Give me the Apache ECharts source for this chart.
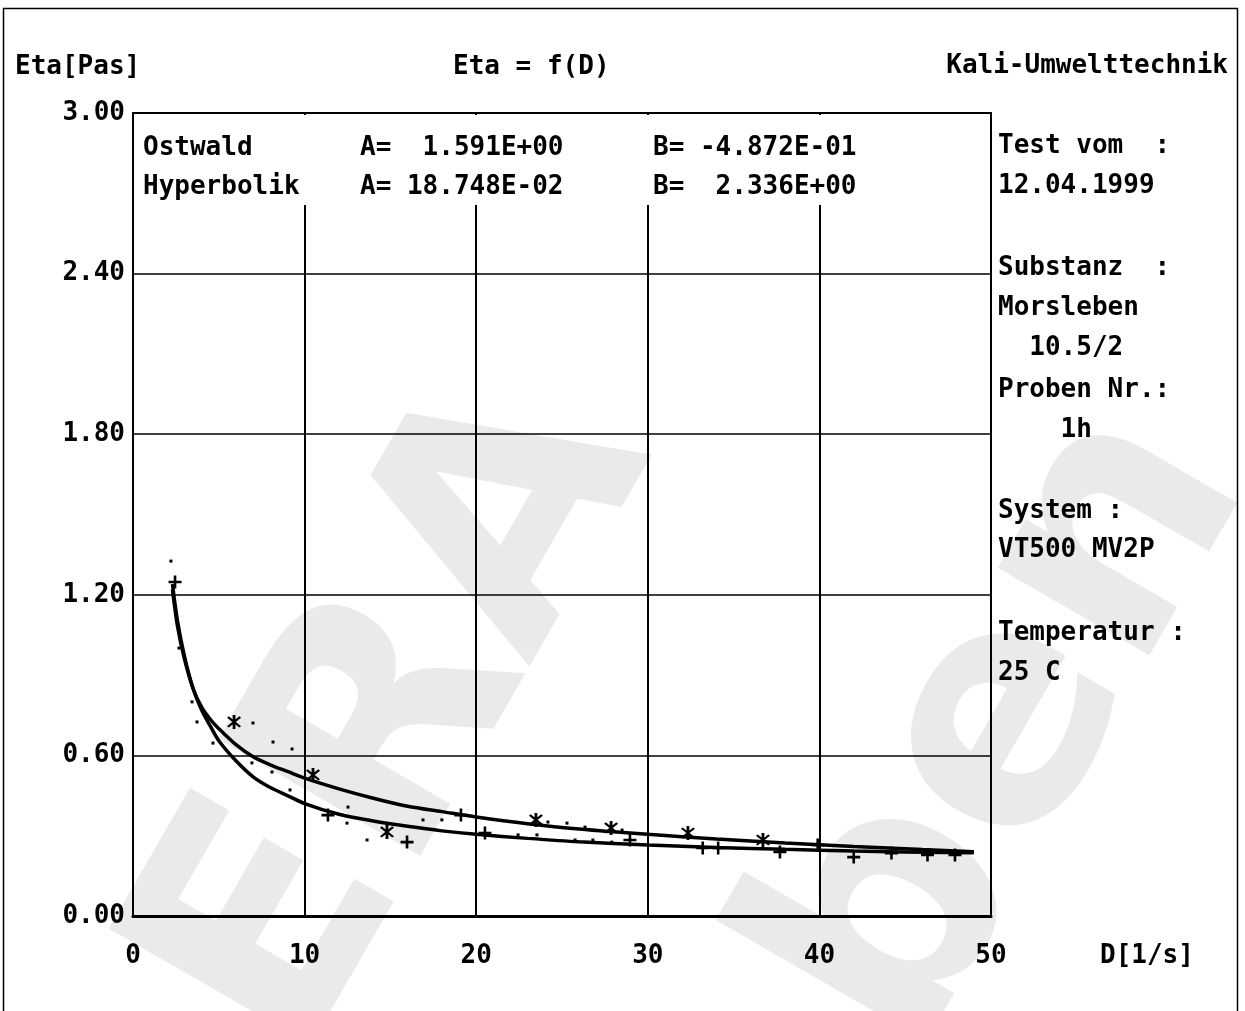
<!DOCTYPE html>
<html>
<head>
<meta charset="utf-8">
<script src="https://cdn.jsdelivr.net/npm/echarts@6/dist/echarts.min.js"></script>
<style>
  html, body { margin:0; padding:0; background:#fff; width:1245px; height:1011px; overflow:hidden; position:relative; }
  #chart { position:absolute; left:0; top:0; width:1245px; height:1011px; z-index:2; }
  .wm { position:absolute; z-index:1; font-family:"DejaVu Sans", sans-serif; font-weight:bold; color:#eaeaea;
        font-size:320px; line-height:320px; white-space:nowrap; transform-origin:0 50%; transform:rotate(-60deg); }
</style>
</head>
<body>
<div class="wm" style="left:200px; top:855px;">ERA</div>
<div class="wm" style="left:210px; top:1900px;">Morsleben</div>
<div id="chart"></div>
<script>
// ---- data ----
const xTickLabels = ['0', '10', '20', '30', '40', '50'];
const yTickLabels = ['0.00', '0.60', '1.20', '1.80', '2.40', '3.00'];

const curveD        = [2.3, 2.6, 3.0, 3.5, 4, 4.5, 5, 6, 7, 8, 9, 10, 12, 14, 16, 18, 20, 23, 26, 30, 34, 38, 42, 46, 49];
const ostwaldEta    = [1.22, 1.08, 0.96, 0.85, 0.78, 0.735, 0.70, 0.64, 0.595, 0.565, 0.54, 0.515, 0.475, 0.44, 0.41, 0.39, 0.37, 0.345, 0.325, 0.305, 0.288, 0.273, 0.26, 0.248, 0.24];
const hyperbolikEta = [1.24, 1.10, 0.97, 0.85, 0.77, 0.71, 0.655, 0.58, 0.52, 0.48, 0.45, 0.42, 0.38, 0.355, 0.335, 0.318, 0.305, 0.29, 0.277, 0.265, 0.256, 0.249, 0.243, 0.238, 0.236];

const plusPoints = [[2.45,1.248],[11.36,0.377],[15.97,0.276],[19.11,0.377],[20.51,0.31],[28.96,0.284],[33.2,0.254],[34.1,0.254],[37.7,0.239],[39.9,0.265],[42.0,0.22],[44.2,0.235],[46.3,0.228],[47.9,0.228]];
const starPoints = [[5.89,0.725],[10.49,0.527],[14.8,0.314],[23.48,0.359],[27.86,0.329],[32.34,0.31],[36.71,0.284]];
const dotPoints  = [[2.21,1.326],[2.68,1.001],[3.44,0.80],[3.73,0.725],[4.66,0.646],[6.99,0.721],[8.16,0.65],[9.27,0.624],[6.93,0.572],[8.10,0.538],[9.15,0.471],[12.53,0.407],[12.47,0.347],[13.64,0.284],[16.9,0.359],[18.0,0.359],[24.18,0.351],[25.29,0.347],[26.34,0.332],[28.5,0.321],[22.44,0.303],[23.54,0.303],[25.76,0.284],[26.8,0.284],[27.9,0.276]];

const fitRows = [
  ['Ostwald',    'A=  1.591E+00', 'B= -4.872E-01'],
  ['Hyperbolik', 'A= 18.748E-02', 'B=  2.336E+00']
];
const infoLines = [
  ['Test vom  :', 146], ['12.04.1999', 186],
  ['Substanz  :', 268], ['Morsleben', 308], ['  10.5/2', 348],
  ['Proben Nr.:', 390], ['    1h', 430],
  ['System :', 511], ['VT500 MV2P', 550],
  ['Temperatur :', 633], ['25 C', 673]
];

// ---- chart ----
const FONT = '"DejaVu Sans Mono", "Liberation Mono", monospace';
const txt = (x, y, text, align) => ({
  type: 'text', x: x, y: y, z: 100,
  style: { text: text, fill: '#000', font: 'bold 26px ' + FONT, textAlign: align || 'left', textVerticalAlign: 'middle' }
});
const graphics = [
  { type: 'rect', z: 1, shape: { x: 3.5, y: 8.5, width: 1234, height: 1100 }, style: { fill: 'none', stroke: '#000', lineWidth: 1.5 } },
  { type: 'rect', z: 50, shape: { x: 135, y: 115, width: 854, height: 90 }, style: { fill: '#fff' } },
  txt(15, 67, 'Eta[Pas]'),
  txt(453, 67, 'Eta = f(D)'),
  txt(1228, 66, 'Kali-Umwelttechnik', 'right'),
  txt(1100, 956, 'D[1/s]')
];
fitRows.forEach((r, i) => {
  const y = 148 + i * 39;
  graphics.push(txt(143, y, r[0]), txt(360, y, r[1]), txt(653, y, r[2]));
});
infoLines.forEach(l => graphics.push(txt(998, l[1], l[0])));

const curveData = arr => curveD.map((d, i) => [d, arr[i]]);
const PLUS = 'path://M4,0H6V10H4Z M0,4H10V6H0Z';
const STAR = 'path://M4.2,0H5.8V10H4.2Z M1,2L2,1L9,8L8,9Z M8,1L9,2L2,9L1,8Z';

const chart = echarts.init(document.getElementById('chart'), null, { renderer: 'canvas' });
chart.setOption({
  animation: false,
  backgroundColor: 'transparent',
  grid: { left: 133, top: 113, width: 858, height: 803, show: true, borderColor: '#000', borderWidth: 2, backgroundColor: 'transparent' },
  xAxis: {
    type: 'value', min: 0, max: 50, interval: 10,
    axisLine: { show: true, lineStyle: { color: '#000', width: 3 } },
    axisTick: { show: false },
    splitLine: { show: true, lineStyle: { color: '#000', width: 2 } },
    axisLabel: { margin: 27, color: '#000', fontFamily: FONT, fontWeight: 'bold', fontSize: 26,
      formatter: v => xTickLabels[Math.round(v / 10)] },
  },
  yAxis: {
    type: 'value', min: 0, max: 3, interval: 0.6,
    axisLine: { show: true, lineStyle: { color: '#000', width: 2 } },
    axisTick: { show: false },
    splitLine: { show: true, lineStyle: { color: '#000', width: 1.5 } },
    axisLabel: { margin: 8, color: '#000', fontFamily: FONT, fontWeight: 'bold', fontSize: 26,
      formatter: v => yTickLabels[Math.round(v / 0.6)] },
  },
  graphic: graphics,
  series: [
    { name: 'Ostwald', type: 'line', data: curveData(ostwaldEta), smooth: 0.3, showSymbol: false,
      lineStyle: { color: '#000', width: 3.5 }, z: 5 },
    { name: 'Hyperbolik', type: 'line', data: curveData(hyperbolikEta), smooth: 0.3, showSymbol: false,
      lineStyle: { color: '#000', width: 3.5 }, z: 5 },
    { type: 'scatter', data: plusPoints, symbol: PLUS, symbolSize: 13, itemStyle: { color: '#000', opacity: 1 }, z: 6 },
    { type: 'scatter', data: starPoints, symbol: STAR, symbolSize: 14, itemStyle: { color: '#000', opacity: 1 }, z: 6 },
    { type: 'scatter', data: dotPoints, symbol: 'rect', symbolSize: 3, itemStyle: { color: '#000', opacity: 1 }, z: 6 }
  ]
});
</script>
</body>
</html>
